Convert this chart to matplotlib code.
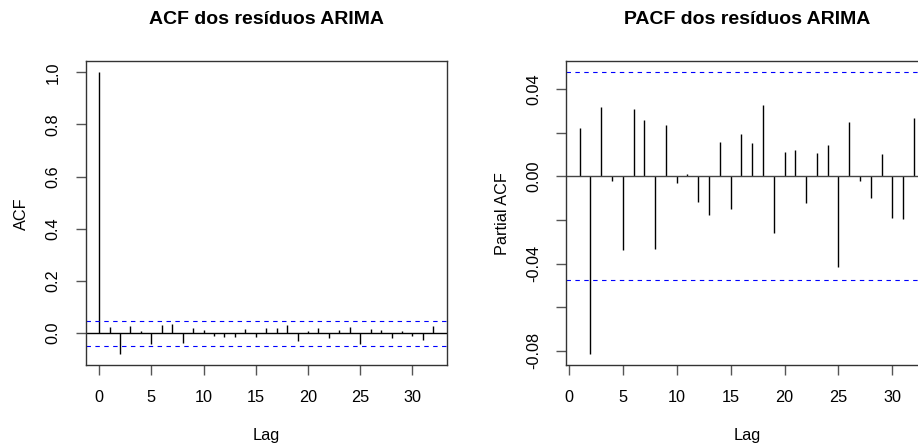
import numpy as np
import matplotlib
matplotlib.use('Agg')
import matplotlib.pyplot as plt

# Data
acf_lags = list(range(0, 33))
acf_vals = [1.0, 0.024, -0.080, 0.029, 0.008, -0.040, 0.033, 0.036, -0.038, 0.019,
            0.011, -0.009, -0.014, -0.014, 0.017, -0.013, 0.019, 0.019, 0.032, -0.028,
            0.008, 0.019, -0.017, 0.011, 0.023, -0.043, 0.017, 0.013, -0.017, 0.008,
            -0.011, -0.026, 0.029]

pacf_lags = list(range(1, 33))
pacf_vals = [0.0221, -0.0815, 0.0319, -0.0024, -0.0337, 0.0308, 0.0258, -0.0334, 0.0235,
             -0.0029, 0.0011, -0.0116, -0.0176, 0.0156, -0.0151, 0.0192, 0.0151, 0.0325,
             -0.0261, 0.0111, 0.0122, -0.0121, 0.0107, 0.0144, -0.0418, 0.0250, -0.0021,
             -0.0098, 0.0102, -0.0191, -0.0198, 0.0266]

clim = 0.0476  # confidence bound for white noise

acf_yticks = [0.0, 0.2, 0.4, 0.6, 0.8, 1.0]
acf_yticklabels = ['0.0', '0.2', '0.4', '0.6', '0.8', '1.0']
pacf_yticks = [-0.08, -0.06, -0.04, -0.02, 0.0, 0.02, 0.04]
pacf_yticklabels = ['-0.08', '', '-0.04', '', '0.00', '', '0.04']
xticks = [0, 5, 10, 15, 20, 25, 30]

plt.rcParams['font.family'] = ['Liberation Sans', 'DejaVu Sans']

fig = plt.figure(figsize=(9.18, 4.46), dpi=100)
W, H = 918, 446
box_w, box_h = 361, 304.4
ax1 = fig.add_axes([85.7 / W, (H - 365.4) / H, box_w / W, box_h / H])
ax2 = fig.add_axes([566.3 / W, (H - 365.4) / H, box_w / W, box_h / H])


def r_range(lo, hi):
    # R style 4% padding around the data range
    pad = 0.04 * (hi - lo)
    return lo - pad, hi + pad


def style(ax, title, ylabel, yticks, yticklabels):
    for s in ax.spines.values():
        s.set_color('#333333')
        s.set_linewidth(1)
    ax.set_xticks(xticks)
    ax.set_xticklabels([str(t) for t in xticks])
    ax.set_yticks(yticks)
    ax.set_yticklabels(yticklabels, rotation=90, va='center')
    ax.tick_params(axis='both', length=7, width=1, color='#555555',
                   labelsize=11.7, pad=11)
    ax.set_title(title, fontsize=14, fontweight='bold', pad=27)
    ax.set_xlabel('Lag', fontsize=11.7, va='center')
    ax.xaxis.set_label_coords(0.5, -70 / box_h)
    ax.set_ylabel(ylabel, fontsize=11.7, va='center')
    ax.yaxis.set_label_coords(-64 / box_w, 0.5)


# ACF
ax1.vlines(acf_lags, 0, acf_vals, color='black', lw=1)
ax1.axhline(0, color='black', lw=1)
for c in (clim, -clim):
    ax1.axhline(c, color='blue', lw=0.8, ls=(0, (4, 4)))
ax1.set_xlim(*r_range(min(acf_lags), max(acf_lags)))
ax1.set_ylim(*r_range(min(min(acf_vals), -clim), max(max(acf_vals), clim)))
style(ax1, 'ACF dos resíduos ARIMA', 'ACF', acf_yticks, acf_yticklabels)

# PACF
ax2.vlines(pacf_lags, 0, pacf_vals, color='black', lw=1)
ax2.axhline(0, color='#444444', lw=1)
for c in (clim, -clim):
    ax2.axhline(c, color='blue', lw=0.8, ls=(0, (4, 4)))
ax2.set_xlim(*r_range(min(pacf_lags), max(pacf_lags)))
ax2.set_ylim(*r_range(min(min(pacf_vals), -clim), max(max(pacf_vals), clim)))
style(ax2, 'PACF dos resíduos ARIMA', 'Partial ACF', pacf_yticks, pacf_yticklabels)

fig.savefig('out.png', dpi=100)
